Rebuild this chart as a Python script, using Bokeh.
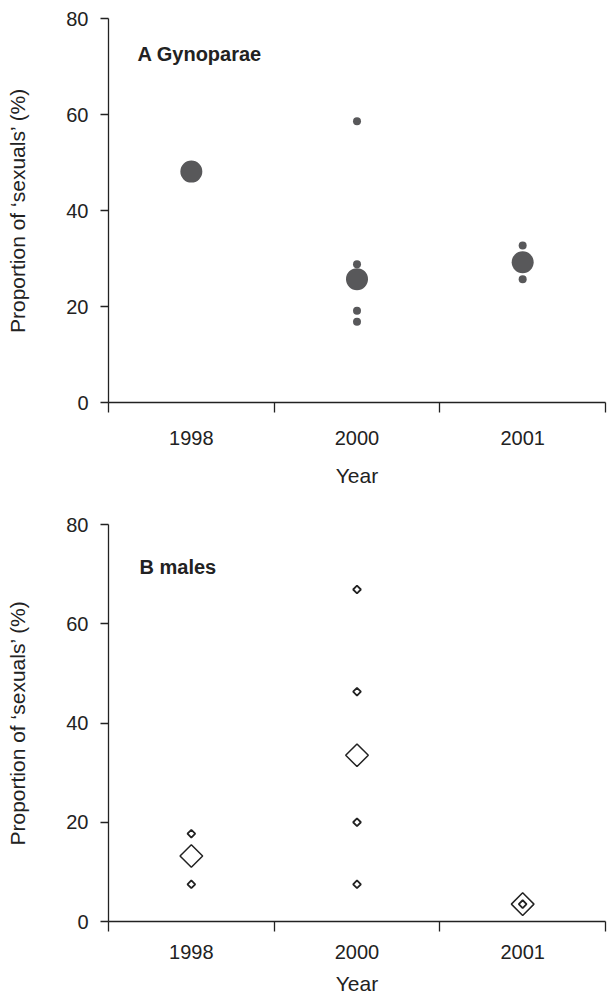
from bokeh.plotting import figure
from bokeh.models import Range1d, FixedTicker, Label, CustomJSTickFormatter
from bokeh.layouts import column
from bokeh.embed import file_html
from bokeh.resources import INLINE

years = ["1998", "2000", "2001"]
y_ticks = [0, 20, 40, 60, 80]

# Panel A: Gynoparae
gyn_mean_year = ["1998", "2000", "2001"]
gyn_mean = [48.1, 25.7, 29.2]
gyn_ind_year = ["2000", "2000", "2000", "2000", "2001", "2001"]
gyn_ind = [58.6, 28.8, 19.1, 16.8, 32.7, 25.7]

# Panel B: males
male_mean_year = ["1998", "2000", "2001"]
male_mean = [13.2, 33.5, 3.5]
male_ind_year = ["1998", "1998", "2000", "2000", "2000", "2000", "2001"]
male_ind = [17.7, 7.5, 66.9, 46.3, 20.0, 7.5, 3.5]

FONT = "Liberation Sans"
TXT = "#222222"


def pos(ys):
    return [years.index(y) + 0.5 for y in ys]


def panel(height, btop, bbot, tick_standoff, label_standoff):
    p = figure(width=607, height=height, output_backend="svg", toolbar_location=None,
               x_range=Range1d(0, 3), y_range=Range1d(0, 80),
               min_border_left=108, min_border_right=2,
               min_border_top=btop, min_border_bottom=bbot)
    p.outline_line_color = None
    p.grid.visible = False
    # x axis
    xa = p.xaxis[0]
    xa.ticker = FixedTicker(ticks=[0.5, 1.5, 2.5], minor_ticks=[0, 1, 2, 3])
    xa.formatter = CustomJSTickFormatter(args=dict(labels=years),
                                         code="return labels[Math.floor(tick)]")
    xa.major_tick_line_color = None
    xa.major_tick_out = 0
    xa.major_tick_in = 0
    xa.minor_tick_out = 10
    xa.minor_tick_in = 0
    xa.minor_tick_line_color = TXT
    xa.minor_tick_line_width = 1.3
    xa.major_label_standoff = tick_standoff
    xa.axis_label = "Year"
    xa.axis_label_standoff = label_standoff
    # y axis
    ya = p.yaxis[0]
    ya.ticker = FixedTicker(ticks=y_ticks, minor_ticks=[])
    ya.major_tick_out = 8
    ya.major_tick_in = 0
    ya.major_tick_line_color = TXT
    ya.major_tick_line_width = 1.3
    ya.major_label_standoff = 12
    ya.axis_label = "Proportion of \u2018sexuals\u2019 (%)"
    ya.axis_label_standoff = 34
    for ax in (xa, ya):
        ax.axis_line_color = TXT
        ax.axis_line_width = 1.3
        ax.major_label_text_font = FONT
        ax.major_label_text_font_size = "20px"
        ax.major_label_text_color = TXT
        ax.axis_label_text_font = FONT
        ax.axis_label_text_font_size = "21px"
        ax.axis_label_text_font_style = "normal"
        ax.axis_label_text_color = TXT
    return p


p1 = panel(500, 18, 98, 18, 16)
p1.scatter(pos(gyn_ind_year), gyn_ind, size=8, marker="circle",
           fill_color="#58585a", line_color=None)
p1.scatter(pos(gyn_mean_year), gyn_mean, size=22, marker="circle",
           fill_color="#58585a", line_color=None)
p1.add_layout(Label(x=0.175, y=72.7, text="A Gynoparae", text_font=FONT,
                    text_font_size="20px", text_font_style="bold", text_color=TXT,
                    text_baseline="middle", text_align="left"))

p2 = panel(497, 24, 76, 13, 10)
p2.scatter(pos(male_mean_year), male_mean, size=16, marker="square", angle=0.785398,
           fill_color="white", line_color=TXT, line_width=1.5)
p2.scatter(pos(male_ind_year), male_ind, size=5.5, marker="square", angle=0.785398,
           fill_color="white", line_color=TXT, line_width=1.8)
p2.add_layout(Label(x=0.187, y=71.4, text="B males", text_font=FONT,
                    text_font_size="20px", text_font_style="bold", text_color=TXT,
                    text_baseline="middle", text_align="left"))

layout = column(p1, p2, spacing=0)
open("out.html", "w").write(file_html(layout, INLINE))
